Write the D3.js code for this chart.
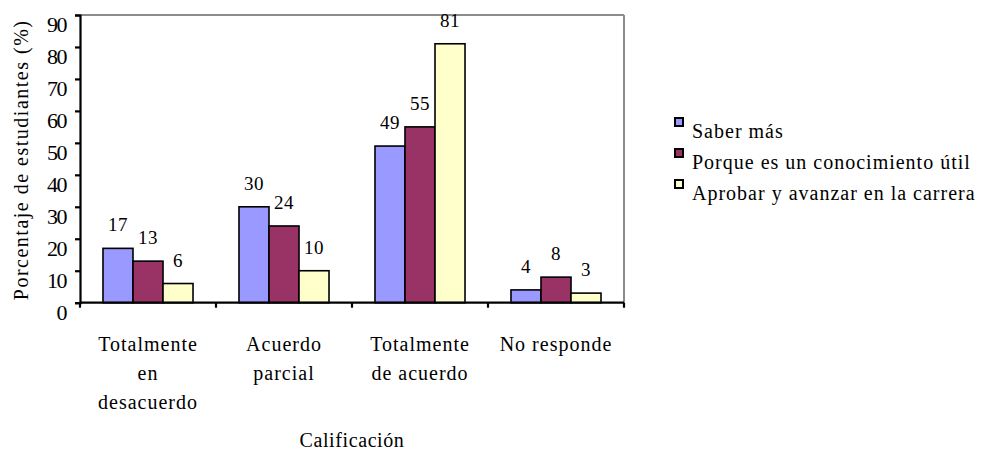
<!DOCTYPE html>
<html>
<head>
<meta charset="utf-8">
<script src="https://cdn.jsdelivr.net/npm/d3@7"></script>
<style>
  html, body { margin: 0; padding: 0; background: #fff; }
  svg { display: block; }
</style>
</head>
<body>
<svg id="chart" width="982" height="452"></svg>
<script>
const categories = [
  ["Totalmente", "en", "desacuerdo"],
  ["Acuerdo", "parcial"],
  ["Totalmente", "de acuerdo"],
  ["No responde"]
];
const seriesNames = ["Saber más", "Porque es un conocimiento útil", "Aprobar y avanzar en la carrera"];
const saberMas = [17, 30, 49, 4];
const conocimientoUtil = [13, 24, 55, 8];
const aprobarAvanzar = [6, 10, 81, 3];
const yTicks = [0, 10, 20, 30, 40, 50, 60, 70, 80, 90];
const colors = ["#9999ff", "#993366", "#ffffcc"];
const yTitle = "Porcentaje de estudiantes (%)";
const xTitle = "Calificación";

const FONT = "'Liberation Serif', 'Times New Roman', serif";
const seriesValues = [saberMas, conocimientoUtil, aprobarAvanzar];
const svg = d3.select("#chart");

const mLeft = 80, mRight = 624, mTop = 15, mBottom = 302.7;
const catIdx = categories.map((d, i) => i);

const x0 = d3.scaleBand().domain(catIdx).range([mLeft, mRight]).paddingInner(0.338).paddingOuter(0.169);
const x1 = d3.scaleBand().domain(d3.range(seriesNames.length)).range([0, x0.bandwidth()]);
const y = d3.scaleLinear().domain([0, 90]).range([mBottom, mTop]);

// plot border (top & right, gray)
svg.append("line").attr("x1", mLeft).attr("x2", mRight).attr("y1", mTop).attr("y2", mTop)
  .attr("stroke", "#8c8c8c").attr("stroke-width", 2);
svg.append("line").attr("x1", mRight).attr("x2", mRight).attr("y1", mTop).attr("y2", mBottom)
  .attr("stroke", "#8c8c8c").attr("stroke-width", 2);

// bars
const groups = svg.append("g").selectAll("g").data(catIdx).join("g")
  .attr("transform", i => `translate(${x0(i)},0)`);
groups.selectAll("rect")
  .data(i => seriesValues.map((vals, s) => ({ s, v: vals[i] })))
  .join("rect")
  .attr("x", d => x1(d.s))
  .attr("y", d => y(d.v))
  .attr("width", x1.bandwidth())
  .attr("height", d => y(0) - y(d.v))
  .attr("fill", d => colors[d.s])
  .attr("stroke", "#000").attr("stroke-width", 1.6);

// value labels
groups.selectAll("text.val")
  .data(i => seriesValues.map((vals, s) => ({ s, v: vals[i] })))
  .join("text").attr("class", "val")
  .attr("x", d => x1(d.s) + x1.bandwidth() / 2)
  .attr("y", d => y(d.v) - 17)
  .attr("text-anchor", "middle")
  .style("font-family", FONT).style("font-size", "19px").style("letter-spacing", "0.5px")
  .text(d => d.v);

// y axis
const yAxis = d3.axisLeft(y).tickValues(yTicks).tickSize(5).tickFormat(d3.format("d"));
const yg = svg.append("g").attr("transform", `translate(${mLeft},0)`).call(yAxis);
yg.select(".domain").attr("stroke", "#000").attr("stroke-width", 2.2);
yg.selectAll(".tick line").attr("stroke", "#000").attr("stroke-width", 2.2);
yg.selectAll(".tick text")
  .style("font-family", FONT).style("font-size", "22px").style("letter-spacing", "-1.5px")
  .attr("x", -14).attr("dy", "0.75em")
  .attr("fill", "#000");

// x axis line + boundary ticks
const boundaries = d3.range(categories.length + 1).map(i => mLeft + i * x0.step());
svg.append("line").attr("x1", mLeft).attr("x2", mRight).attr("y1", mBottom).attr("y2", mBottom)
  .attr("stroke", "#000").attr("stroke-width", 2.2);
svg.append("g").selectAll("line").data(boundaries).join("line")
  .attr("x1", d => d).attr("x2", d => d).attr("y1", mBottom).attr("y2", mBottom + 5)
  .attr("stroke", "#000").attr("stroke-width", 2.2);

// category labels
const catLabels = svg.append("g").selectAll("text").data(catIdx).join("text")
  .attr("text-anchor", "middle")
  .style("font-family", FONT).style("font-size", "20px").style("letter-spacing", "1px");
catLabels.each(function(i) {
  const t = d3.select(this);
  categories[i].forEach((line, k) => {
    t.append("tspan")
      .attr("x", x0(i) + x0.bandwidth() / 2)
      .attr("y", 351 + k * 29)
      .text(line);
  });
});

// axis titles
svg.append("text")
  .attr("x", (mLeft + mRight) / 2).attr("y", 447)
  .attr("text-anchor", "middle")
  .style("font-family", FONT).style("font-size", "20px").style("letter-spacing", "0.6px")
  .text(xTitle);
svg.append("text")
  .attr("transform", `translate(28,${(mTop + mBottom) / 2 + 1}) rotate(-90)`)
  .attr("text-anchor", "middle")
  .style("font-family", FONT).style("font-size", "20px").style("letter-spacing", "1.5px")
  .text(yTitle);

// legend
const legend = svg.append("g").selectAll("g").data(seriesNames).join("g")
  .attr("transform", (d, i) => `translate(675,${118 + i * 31})`);
legend.append("rect").attr("width", 8).attr("height", 8)
  .attr("fill", (d, i) => colors[i]).attr("stroke", "#000").attr("stroke-width", 2);
legend.append("text").attr("x", 17).attr("y", 20)
  .style("font-family", FONT).style("font-size", "20px").style("letter-spacing", "1px")
  .text(d => d);
</script>
</body>
</html>
